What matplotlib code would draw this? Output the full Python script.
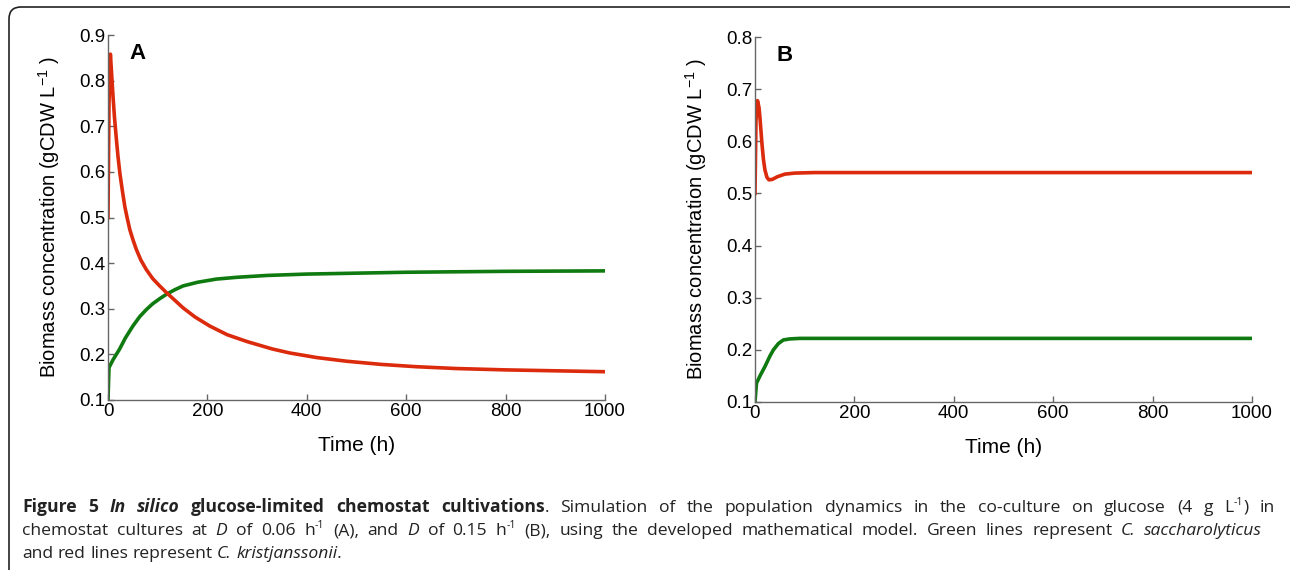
import numpy as np
import matplotlib
matplotlib.use('Agg')
import matplotlib.pyplot as plt
from matplotlib.patches import FancyBboxPatch
from matplotlib.transforms import IdentityTransform

# ----- DATA -----
# panel A, D = 0.06 1/h
time_a_red = [0, 2, 4.8, 7, 10, 13, 17, 20, 24, 29, 34, 39, 44, 50, 57, 66, 77, 90,
              104, 118, 135, 151, 175, 205, 240, 280, 330, 366, 420, 480, 550, 620,
              700, 800, 900, 1000]
red_a = [0.50, 0.75, 0.858, 0.82, 0.767, 0.72, 0.67, 0.635, 0.596, 0.558, 0.523,
         0.497, 0.473, 0.452, 0.430, 0.407, 0.386, 0.366, 0.350, 0.335, 0.318, 0.302,
         0.282, 0.262, 0.243, 0.228, 0.212, 0.203, 0.193, 0.185, 0.178, 0.173, 0.169,
         0.166, 0.164, 0.162]
time_a_green = [0, 2, 10, 23, 35, 50, 64, 77, 90, 104, 118, 135, 151, 180, 218, 260,
                320, 400, 500, 600, 700, 800, 1000]
green_a = [0.10, 0.171, 0.188, 0.211, 0.236, 0.262, 0.283, 0.298, 0.311, 0.322, 0.332,
           0.342, 0.35, 0.358, 0.365, 0.369, 0.373, 0.376, 0.378, 0.380, 0.381, 0.382,
           0.383]

# panel B, D = 0.15 1/h
time_b_red = [0, 2, 5, 8, 10, 12, 14, 17, 20, 24, 28, 35, 45, 60, 80, 120, 1000]
red_b = [0.50, 0.64, 0.678, 0.665, 0.645, 0.62, 0.595, 0.565, 0.545, 0.531, 0.526,
         0.527, 0.532, 0.537, 0.539, 0.540, 0.540]
time_b_green = [0, 3, 10, 20, 30, 37, 47, 57, 70, 90, 150, 1000]
green_b = [0.10, 0.136, 0.15, 0.168, 0.188, 0.200, 0.212, 0.219, 0.221, 0.222, 0.222, 0.222]

xticks = [0, 200, 400, 600, 800, 1000]
yticks_a = [0.1, 0.2, 0.3, 0.4, 0.5, 0.6, 0.7, 0.8, 0.9]
yticks_b = [0.1, 0.2, 0.3, 0.4, 0.5, 0.6, 0.7, 0.8]

RED = '#dc2a0c'
GREEN = '#0f7a0f'

plt.rcParams['font.family'] = ['Liberation Sans', 'DejaVu Sans']
plt.rcParams['mathtext.fontset'] = 'custom'
plt.rcParams['mathtext.rm'] = 'Liberation Sans'

W, H = 1290, 570
fig = plt.figure(figsize=(W / 100, H / 100), dpi=100)

def px_axes(x0, y0, x1, y1):
    # pixel box (top-left origin) -> figure fraction
    return fig.add_axes([x0 / W, 1 - y1 / H, (x1 - x0) / W, (y1 - y0) / H])

ax_a = px_axes(108, 35, 605, 400)
ax_b = px_axes(755, 37, 1252, 402)

panels = [
    (ax_a, 'A', time_a_red, red_a, time_a_green, green_a, yticks_a),
    (ax_b, 'B', time_b_red, red_b, time_b_green, green_b, yticks_b),
]
for ax, letter, tr, yr, tg, yg, yt in panels:
    ax.plot(tg, yg, color=GREEN, lw=2.6, solid_joinstyle='round')
    ax.plot(tr, yr, color=RED, lw=2.6, solid_joinstyle='round')
    ax.set_xlim(0, 1000)
    ax.set_ylim(yt[0], yt[-1])
    ax.set_xticks(xticks)
    ax.set_yticks(yt)
    ax.set_yticklabels([f'{v:.1f}' for v in yt])
    ax.spines['top'].set_visible(False)
    ax.spines['right'].set_visible(False)
    for s in ('left', 'bottom'):
        ax.spines[s].set_color('#666666')
        ax.spines[s].set_linewidth(1.0)
    ax.tick_params(direction='in', length=4, width=1, color='#666666',
                   labelsize=13.5, pad=2)
    ax.set_xlabel('Time (h)', fontsize=15, labelpad=12)
    ax.set_ylabel('Biomass concentration (gCDW L$^{-1}$ )', fontsize=14.5, labelpad=12)
    ax.text(0.06, 0.95, letter, transform=ax.transAxes, fontsize=16,
            fontweight='bold', va='center', ha='center')

# rounded frame, only top and left edges visible
frame = FancyBboxPatch((9, -30), 1300, 593, boxstyle='round,pad=0,rounding_size=12',
                       transform=IdentityTransform(), fill=False, ec='#222222', lw=1.2)
fig.patches.append(frame)

# ----- CAPTION -----
# tokens: (text, style, glue)  style: n normal, b bold, i italic, bi bold italic, s superscript
line1 = [('Figure', 'b', 0), ('5', 'b', 0), ('In', 'bi', 0), ('silico', 'bi', 0),
         ('glucose-limited', 'b', 0), ('chemostat', 'b', 0), ('cultivations', 'b', 0),
         ('.', 'n', 1), ('Simulation', 'n', 0), ('of', 'n', 0), ('the', 'n', 0),
         ('population', 'n', 0), ('dynamics', 'n', 0), ('in', 'n', 0), ('the', 'n', 0),
         ('co-culture', 'n', 0), ('on', 'n', 0), ('glucose', 'n', 0), ('(4', 'n', 0),
         ('g', 'n', 0), ('L', 'n', 0), ('-1', 's', 1), (')', 'n', 1), ('in', 'n', 0)]
line2 = [('chemostat', 'n', 0), ('cultures', 'n', 0), ('at', 'n', 0), ('D', 'i', 0),
         ('of', 'n', 0), ('0.06', 'n', 0), ('h', 'n', 0), ('-1', 's', 1), ('(A),', 'n', 0),
         ('and', 'n', 0), ('D', 'i', 0), ('of', 'n', 0), ('0.15', 'n', 0), ('h', 'n', 0),
         ('-1', 's', 1), ('(B),', 'n', 0), ('using', 'n', 0), ('the', 'n', 0),
         ('developed', 'n', 0), ('mathematical', 'n', 0), ('model.', 'n', 0),
         ('Green', 'n', 0), ('lines', 'n', 0), ('represent', 'n', 0), ('C.', 'i', 0),
         ('saccharolyticus', 'i', 0)]
line3 = [('and', 'n', 0), ('red', 'n', 0), ('lines', 'n', 0), ('represent', 'n', 0),
         ('C.', 'i', 0), ('kristjanssonii', 'i', 0), ('.', 'i', 1)]

CAP_SIZE = 12.6
renderer = fig.canvas.get_renderer()

def make_token(text, style):
    kw = dict(family=['Open Sans', 'DejaVu Sans'], fontsize=CAP_SIZE, color='#222222',
              transform=IdentityTransform(), va='baseline', ha='left')
    if 'b' in style:
        kw['fontweight'] = 'bold'
    if 'i' in style:
        kw['fontstyle'] = 'italic'
    if style == 's':
        kw['fontsize'] = CAP_SIZE * 0.6
    return fig.text(0, 0, text, **kw)

def layout_line(tokens, x0, baseline, x1=None):
    base_y = H - baseline
    groups = []
    for text, style, glue in tokens:
        t = make_token(text, style)
        w = t.get_window_extent(renderer).width
        if glue and groups:
            groups[-1].append((t, style, w))
        else:
            groups.append([(t, style, w)])
    widths = [sum(w for _, _, w in g) for g in groups]
    sp = make_token(' ', 'n')
    space = sp.get_window_extent(renderer).width
    sp.remove()
    if x1 is not None and len(groups) > 1:
        gap = (x1 - x0 - sum(widths)) / (len(groups) - 1)
    else:
        gap = space
    x = x0
    for g, gw in zip(groups, widths):
        for t, style, w in g:
            dy = CAP_SIZE * 0.55 if style == 's' else 0
            t.set_position((x, base_y + dy))
            x += w
        x += gap

layout_line(line1, 22, 512, 1275)
layout_line(line2, 22, 535, 1262)
layout_line(line3, 22, 558)

fig.savefig('out.png', dpi=100)
